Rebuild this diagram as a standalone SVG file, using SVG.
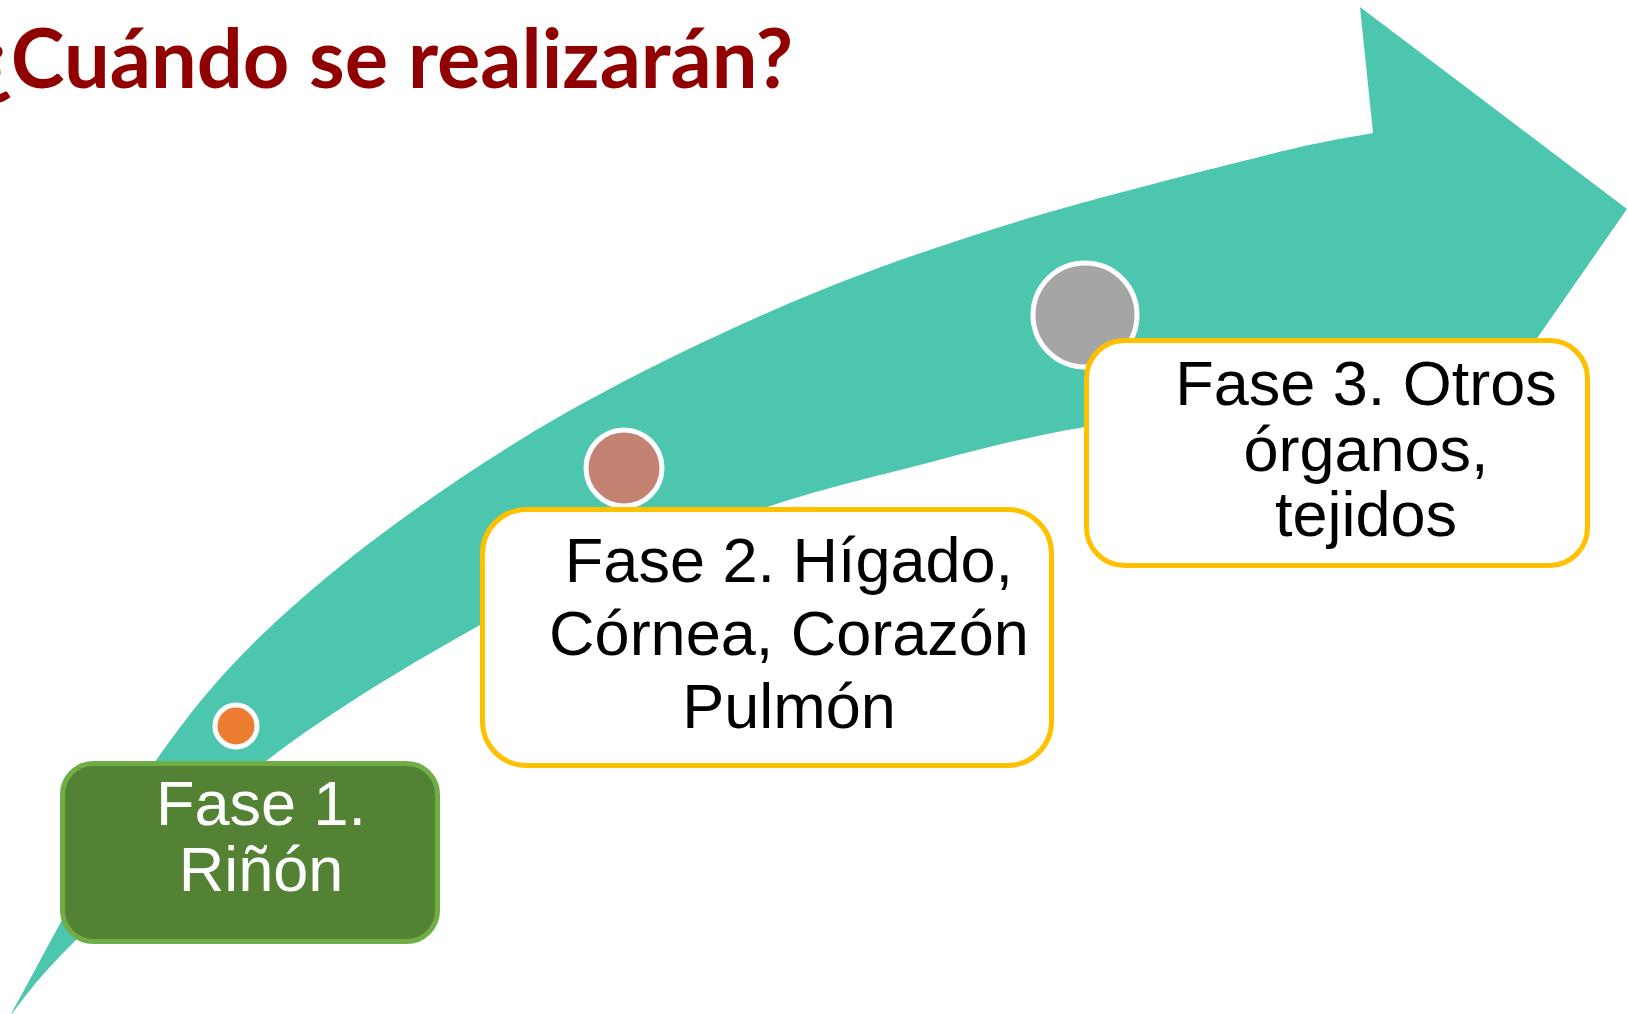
<svg xmlns="http://www.w3.org/2000/svg" width="1628" height="1014" viewBox="0 0 1628 1014">
<style>
.title{font-family:"Lato","Open Sans","Liberation Sans",sans-serif;font-weight:bold;font-size:82px;fill:#900000}
.lbl{font-family:"Liberation Sans",Arial,sans-serif;font-size:63px;text-anchor:middle}
.dark{fill:#000000}
.light{fill:#FFFFFF}
.dot{stroke:#FFFFFF;stroke-width:5}
.box{stroke-width:5}
</style>
<rect width="1628" height="1014" fill="#FFFFFF"/>
<g id="arrow">
<path fill="#4DC6AF" d="M10,1016 C34.2,973.7 106.7,831.3 155,762 C203.3,692.7 239.2,653.7 300,600 C360.8,546.3 442.2,487.8 520,440 C597.8,392.2 687,348.5 767,313 C847,277.5 916.7,253.3 1000,227 C1083.3,200.7 1204.8,170.7 1267,155 C1329.2,139.3 1355.3,136.7 1373,133 L1360,7 L1627,209 L1508,380 L1395,385 C1343.3,392 1167.5,412.8 1085,427 C1002.5,441.2 953,456.7 900,470 C847,483.3 813.7,491.7 767,507 C720.3,522.3 667.8,542.3 620,562 C572.2,581.7 539.2,591.7 480,625 C420.8,658.3 332.8,709 265,762 C197.2,815 115.5,900.7 73,943 C30.5,985.3 20.5,1003.8 10,1016 Z"/>
</g>
<text class="title" x="-24" y="88" textLength="817" lengthAdjust="spacingAndGlyphs">¿Cuándo se realizarán?</text>
<g id="connectors"></g>
<g id="dot1"><circle class="dot" cx="236" cy="726" r="21" fill="#ED7D31"/></g>
<g id="dot2"><circle class="dot" cx="624" cy="468" r="38" fill="#C48272"/></g>
<g id="dot3"><circle class="dot" cx="1085" cy="315" r="52" fill="#A5A5A5"/></g>
<g id="fase1">
<rect class="box" x="62.5" y="763.5" width="375" height="178" rx="31" fill="#548235" stroke="#70AD47"/>
<text class="lbl light" x="261" y="825">Fase 1.</text>
<text class="lbl light" x="261" y="891">Riñón</text>
</g>
<g id="fase2">
<rect class="box" x="482.5" y="509.5" width="569" height="256" rx="44" fill="#FFFFFF" stroke="#FFC000"/>
<text class="lbl dark" x="789" y="582">Fase 2. Hígado,</text>
<text class="lbl dark" x="789" y="655">Córnea, Corazón</text>
<text class="lbl dark" x="789" y="728">Pulmón</text>
</g>
<g id="fase3">
<rect class="box" x="1086.5" y="340.5" width="501" height="225" rx="38" fill="#FFFFFF" stroke="#FFC000"/>
<text class="lbl dark" x="1366" y="405">Fase 3. Otros</text>
<text class="lbl dark" x="1366" y="471">órganos,</text>
<text class="lbl dark" x="1366" y="536">tejidos</text>
</g>
</svg>
